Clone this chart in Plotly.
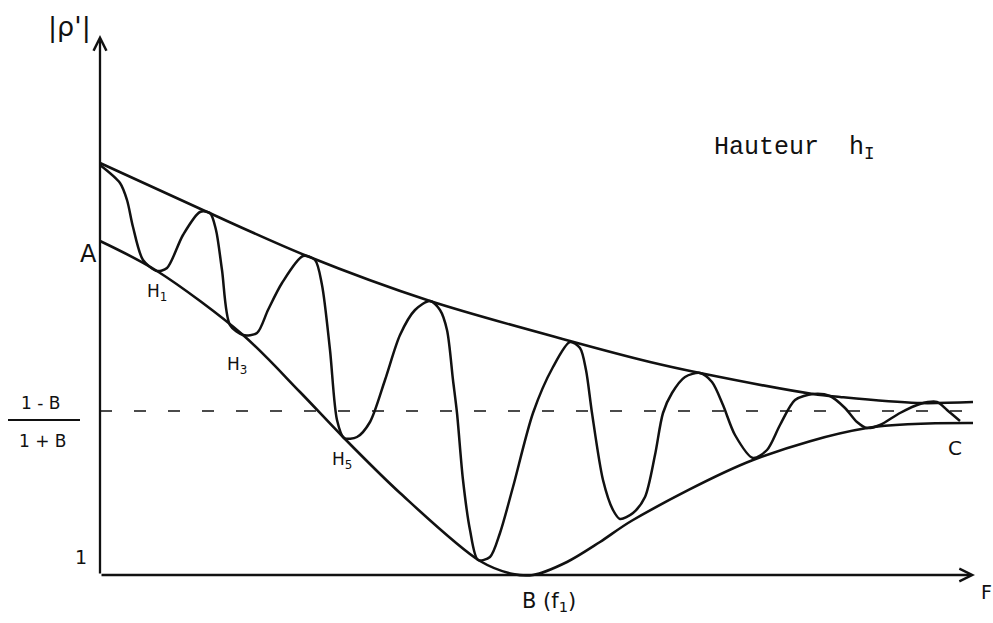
import plotly.graph_objects as go

# Frequency axis F (arbitrary units) and |rho'| values (arbitrary units, axis origin = 1)
upper_f = [0.00, 1.05, 2.07, 3.30, 4.70, 5.50, 6.00, 7.13, 7.40, 8.17, 8.73]
upper_r = [5.12, 4.64, 4.19, 3.74, 3.34, 3.13, 3.02, 2.81, 2.78, 2.72, 2.73]

lower_f = [0.00, 0.57, 1.43, 2.00, 2.43, 3.00, 3.80, 4.13, 4.33, 4.67, 5.00, 5.33, 6.53, 7.67, 8.73]
lower_r = [4.34, 4.04, 3.40, 2.83, 2.38, 1.82, 1.14, 1.01, 1.00, 1.13, 1.33, 1.55, 2.15, 2.47, 2.52]

osc_f = [0.00, 0.20, 0.27, 0.33, 0.43, 0.57, 0.67, 0.83, 1.00, 1.10, 1.16, 1.22, 1.30,
         1.43, 1.57, 1.68, 1.82, 2.03, 2.15, 2.22, 2.30, 2.37, 2.44, 2.57, 2.70, 2.85,
         3.00, 3.15, 3.30, 3.40, 3.47, 3.53, 3.57, 3.63, 3.70, 3.78, 3.90, 4.00, 4.13,
         4.33, 4.53, 4.70, 4.80, 4.86, 4.92, 5.03, 5.13, 5.20, 5.33, 5.45, 5.55, 5.63,
         5.72, 5.85, 6.00, 6.12, 6.23, 6.35, 6.53, 6.67, 6.80, 6.95, 7.13, 7.30, 7.45,
         7.57, 7.67, 7.80, 8.00, 8.20, 8.37, 8.47, 8.60]
osc_r = [5.10, 4.92, 4.75, 4.48, 4.15, 4.04, 4.07, 4.40, 4.63, 4.62, 4.45, 4.05, 3.50,
         3.40, 3.42, 3.65, 3.92, 4.19, 4.15, 3.90, 3.25, 2.55, 2.37, 2.38, 2.53, 2.95,
         3.40, 3.65, 3.74, 3.65, 3.45, 2.95, 2.62, 1.95, 1.45, 1.15, 1.18, 1.42, 1.88,
         2.62, 3.08, 3.33, 3.27, 3.05, 2.62, 1.95, 1.65, 1.56, 1.62, 1.78, 2.20, 2.62,
         2.82, 2.98, 3.02, 2.93, 2.70, 2.40, 2.17, 2.25, 2.50, 2.75, 2.81, 2.79, 2.67,
         2.53, 2.47, 2.50, 2.62, 2.71, 2.73, 2.65, 2.54]

ratio_level = 2.64          # (1 - B) / (1 + B)
ratio_span = [0.00, 8.75]
f_axis_end = 8.75
r_axis_origin = 1.00
r_axis_end = 6.40

INK = "#111111"
HAND = "DejaVu Sans"

fig = go.Figure()

line_style = dict(color=INK, width=2.6, shape="spline", smoothing=0.9)
fig.add_trace(go.Scatter(x=upper_f, y=upper_r, mode="lines", line=line_style, hoverinfo="skip"))
fig.add_trace(go.Scatter(x=lower_f, y=lower_r, mode="lines", line=line_style, hoverinfo="skip"))
fig.add_trace(go.Scatter(x=osc_f, y=osc_r, mode="lines",
                         line=dict(color=INK, width=2.5, shape="spline", smoothing=0.8),
                         hoverinfo="skip"))
fig.add_trace(go.Scatter(x=ratio_span, y=[ratio_level, ratio_level], mode="lines",
                         line=dict(color=INK, width=1.7, dash="12px,22px"), hoverinfo="skip"))

annotations = []
# axes with open arrowheads
annotations.append(dict(x=f_axis_end, y=r_axis_origin, ax=0, ay=r_axis_origin,
                        xref="x", yref="y", axref="x", ayref="y", text="",
                        showarrow=True, arrowhead=5, arrowsize=1.1, arrowwidth=2.3,
                        arrowcolor=INK, standoff=0, startstandoff=0))
annotations.append(dict(x=0, y=r_axis_end, ax=0, ay=r_axis_origin,
                        xref="x", yref="y", axref="x", ayref="y", text="",
                        showarrow=True, arrowhead=5, arrowsize=1.1, arrowwidth=2.3,
                        arrowcolor=INK, standoff=0, startstandoff=0))


def label(x, y, text, size, family=HAND, xanchor="center", yanchor="middle"):
    annotations.append(dict(x=x, y=y, xref="x", yref="y", text=text, showarrow=False,
                            xanchor=xanchor, yanchor=yanchor,
                            font=dict(family=family, size=size, color=INK)))


label(-0.31, 6.48, "|ρ'|", 27)
label(-0.12, 4.21, "A", 24)
label(0.57, 3.83, "H<sub>1</sub>", 17)
label(1.37, 3.10, "H<sub>3</sub>", 17)
label(2.42, 2.15, "H<sub>5</sub>", 17)
label(-0.60, 2.72, "1 - B", 17)
label(-0.57, 2.34, "1 + B", 17)
label(-0.19, 1.18, "1", 19)
label(4.49, 0.73, "B (f<sub>1</sub>)", 21)
label(8.86, 0.83, "F", 19)
label(8.55, 2.27, "C", 20)
label(6.12, 5.27, "Hauteur  h<sub>I</sub>", 25, family="Liberation Mono", xanchor="left")

fig.update_layout(
    width=993, height=623,
    margin=dict(l=0, r=0, t=0, b=0),
    paper_bgcolor="white", plot_bgcolor="white",
    showlegend=False,
    xaxis=dict(range=[-1.00, 8.93], visible=False, fixedrange=True),
    yaxis=dict(range=[0.52, 6.75], visible=False, fixedrange=True),
    annotations=annotations,
    shapes=[dict(type="line", xref="x", yref="y", x0=-0.92, x1=-0.20, y0=2.55, y1=2.55,
                 line=dict(color=INK, width=2))],
)

fig.write_html("out.html")
